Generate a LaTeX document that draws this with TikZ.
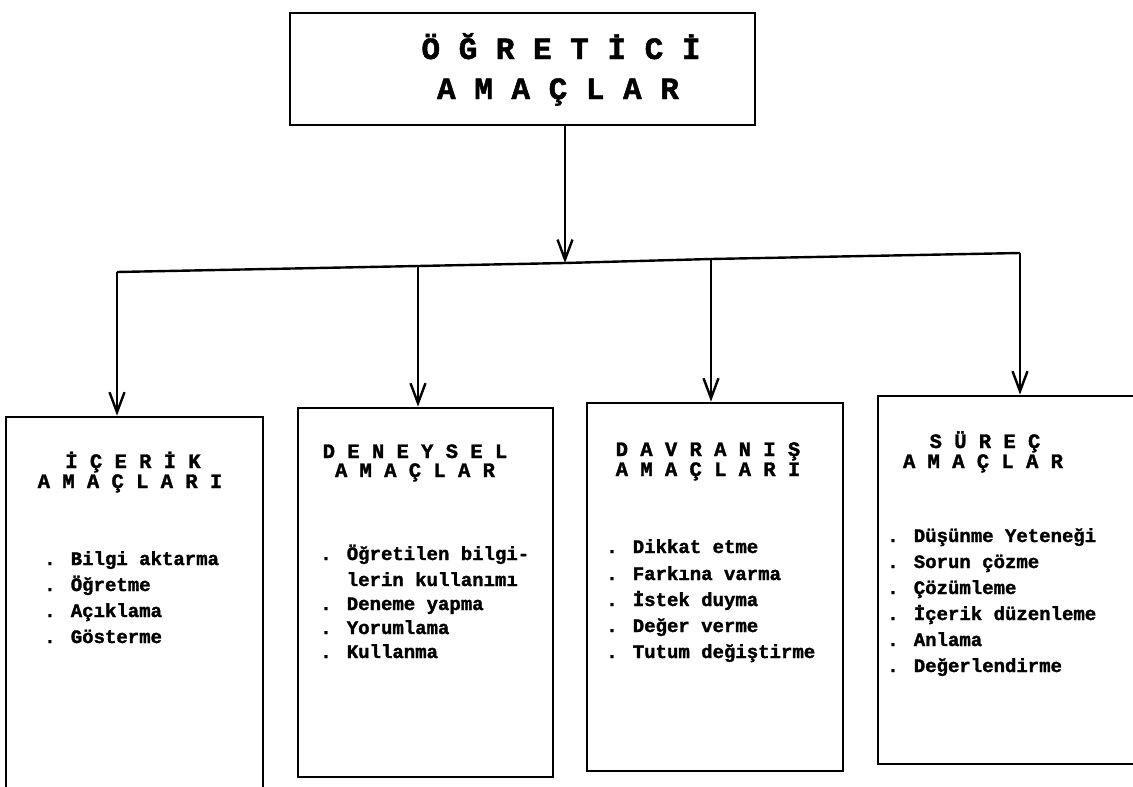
\documentclass[tikz,border=0pt]{standalone}
\usepackage{fontspec}
\newfontfamily\tw{Liberation Mono}[BoldFeatures={FakeBold=1.6}]
\usetikzlibrary{arrows.meta}
\begin{document}
\begin{tikzpicture}[x=1pt,y=-1pt,
  frame/.style={draw,line width=2.8pt,rectangle,inner sep=0pt},
  conn/.style={line width=2.4pt},
  arr/.style={conn,-{Straight Barb[length=20pt,width=15pt,line width=2.4pt]}},
  ttl/.style={anchor=base,font=\tw\bfseries\fontsize{31}{31}\selectfont,inner sep=0pt},
  hdr/.style={anchor=base,font=\tw\bfseries\fontsize{20.5}{20}\selectfont,inner sep=0pt},
  itm/.style={anchor=base west,font=\tw\bfseries\fontsize{19}{19}\selectfont,inner sep=0pt}]
\useasboundingbox (0,0) rectangle (1133,787);
% top box
\node[frame,minimum width=465pt,minimum height=112pt] (top) at (522.5,69) {};
\node[ttl] (t1) at (561,59) {Ö Ğ R E T İ C İ};
\node[ttl] (t2) at (558,99) {A M A Ç L A R};
% lower boxes
\node[frame,minimum width=257pt,minimum height=375pt] (c1) at (134.5,604.5) {};
\node[frame,minimum width=255pt,minimum height=369pt] (c2) at (425.5,592.5) {};
\node[frame,minimum width=256pt,minimum height=368pt] (c3) at (715,587) {};
\node[frame,minimum width=262pt,minimum height=368pt] (c4) at (1009,580) {};
% connectors
\coordinate (j) at (565,263);
\coordinate (b1) at (117,272);
\coordinate (b2) at (418,266);
\coordinate (b3) at (711,259);
\coordinate (b4) at (1020,253);
\draw[arr] (top.south -| j) -- (j);
\draw[conn] (b1) -- (b2) -- (j) -- (b3) -- (b4);
\draw[arr] (b1) -- (b1 |- c1.north);
\draw[arr] (b2) -- (b2 |- c2.north);
\draw[arr] (b3) -- (b3 |- c3.north);
\draw[arr] (b4) -- (b4 |- c4.north);
% box 1
\node[hdr] (h1a) at (133,468) {İ Ç E R İ K};
\node[hdr] (h1b) at (130,488) {A M A Ç L A R I};
\node[itm] (i11) at (44,565) {. Bilgi aktarma};
\node[itm] (i12) at (44,591) {. Öğretme};
\node[itm] (i13) at (44,617) {. Açıklama};
\node[itm] (i14) at (44,643) {. Gösterme};
% box 2
\node[hdr] (h2a) at (415,458) {D E N E Y S E L};
\node[hdr] (h2b) at (415,477) {A M A Ç L A R};
\node[itm] (i21) at (320,560) {. Öğretilen bilgi-};
\node[itm] (i22) at (320,586) {\phantom{. }lerin kullanımı};
\node[itm] (i23) at (320,610) {. Deneme yapma};
\node[itm] (i24) at (320,634) {. Yorumlama};
\node[itm] (i25) at (320,658) {. Kullanma};
% box 3
\node[hdr] (h3a) at (708,456) {D A V R A N I Ş};
\node[hdr] (h3b) at (708,476) {A M A Ç L A R I};
\node[itm] (i31) at (606,553) {. Dikkat etme};
\node[itm] (i32) at (606,580) {. Farkına varma};
\node[itm] (i33) at (606,606) {. İstek duyma};
\node[itm] (i34) at (606,632) {. Değer verme};
\node[itm] (i35) at (606,658) {. Tutum değiştirme};
% box 4
\node[hdr] (h4a) at (985,448) {S Ü R E Ç};
\node[hdr] (h4b) at (983,468) {A M A Ç L A R};
\node[itm] (i41) at (887,542) {. Düşünme Yeteneği};
\node[itm] (i42) at (887,568) {. Sorun çözme};
\node[itm] (i43) at (887,594) {. Çözümleme};
\node[itm] (i44) at (887,620) {. İçerik düzenleme};
\node[itm] (i45) at (887,646) {. Anlama};
\node[itm] (i46) at (887,672) {. Değerlendirme};
\end{tikzpicture}
\end{document}
